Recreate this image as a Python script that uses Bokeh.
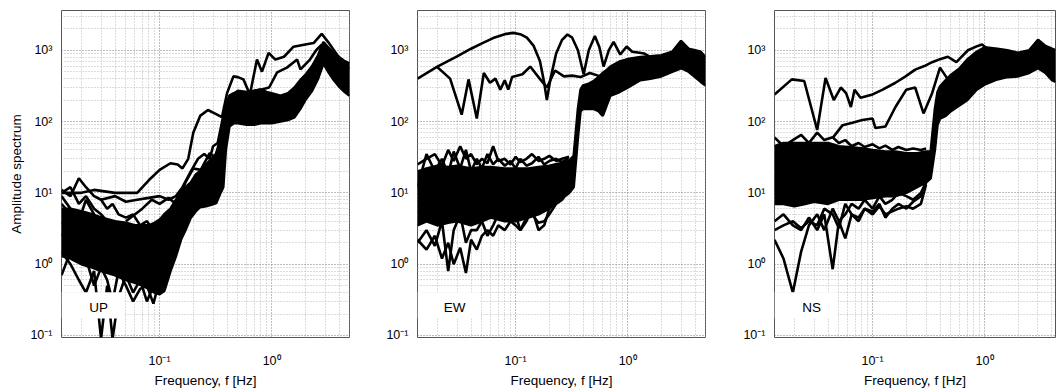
from bokeh.plotting import figure
from bokeh.models import Range1d, FixedTicker, Label, BoxAnnotation
from bokeh.layouts import row
from bokeh.embed import file_html
from bokeh.resources import INLINE

FONT = "Liberation Sans"

# ---------------- axis settings ----------------
X_START, X_END, X_END_NS = 0.0133, 4.96, 4.3
Y_START, Y_END = 0.0937, 3606.0
x_major = [0.1, 1.0]
x_tick_labels = ["10\u207b\u00b9", "10\u2070"]
y_major = [0.1, 1.0, 10.0, 100.0, 1000.0]
y_tick_labels = ["10\u207b\u00b9", "10\u2070", "10\u00b9", "10\u00b2", "10\u00b3"]
x_title = "Frequency, f [Hz]"
y_title = "Amplitude spectrum"
panel_names = ["UP", "EW", "NS"]

# ---------------- UP component ----------------
up_band_f = [0.0133, 0.016, 0.02, 0.025, 0.03, 0.04, 0.05, 0.06, 0.07, 0.08, 0.09, 0.1, 0.11, 0.125, 0.14, 0.155,
             0.17, 0.19, 0.21, 0.23, 0.26, 0.29, 0.32, 0.35, 0.37, 0.39, 0.42, 0.46, 0.5, 0.6, 0.7, 0.8, 0.9, 1.0,
             1.2, 1.4, 1.6, 1.8, 2.0, 2.3, 2.6, 2.9, 3.2, 3.6, 4.0, 4.5, 4.96]
up_band_lo = [1.3, 1.2, 1.0, 0.9, 0.8, 0.7, 0.6, 0.55, 0.5, 0.45, 0.4, 0.38, 0.42, 0.8, 1.3, 2.2,
              3.0, 4.5, 5.5, 6.3, 6.5, 6.8, 7.2, 10, 12, 40, 85, 95, 95, 90, 90, 95, 95, 95,
              100, 105, 115, 150, 200, 270, 400, 650, 500, 380, 310, 260, 230]
up_band_hi = [6, 6, 5.5, 5, 4.5, 4, 3.8, 3.5, 3.5, 3.5, 3.8, 4.2, 5, 6, 8, 10,
              12, 14, 18, 20, 25, 30, 35, 60, 110, 170, 230, 250, 260, 240, 270, 280, 260, 250,
              230, 250, 300, 380, 450, 600, 850, 1300, 1100, 900, 800, 700, 650]
up_low_f = [0.0133, 0.016, 0.019, 0.022, 0.026, 0.03, 0.034, 0.038, 0.043, 0.05, 0.058, 0.067, 0.077, 0.088,
            0.1, 0.115, 0.13]
up_low_1 = [11, 9, 16, 12, 9, 8, 6, 7, 5, 4.5, 5, 3.5, 4, 3, 3.5, 4, 5]
up_low_2 = [7, 5, 4, 8, 5, 3, 4, 2.5, 3, 2, 2.5, 1.8, 2.2, 1.5, 2, 2.5, 4]
up_low_3 = [4, 2.5, 3, 1.5, 2.5, 1.2, 2, 1.0, 1.5, 0.8, 1.2, 0.7, 1, 0.6, 0.8, 1.2, 2.5]
up_low_4 = [1.5, 1.0, 0.6, 0.4, 0.8, 0.09, 0.5, 0.09, 0.35, 0.7, 0.4, 0.6, 0.3, 0.5, 0.45, 0.7, 2]
up_low_5 = [0.7, 1.5, 2, 1.2, 0.5, 0.9, 0.6, 0.3, 0.8, 0.5, 0.3, 0.45, 0.5, 0.28, 0.6, 1.0, 3]
up_low_6 = [9, 6, 3, 5, 2, 3.5, 1.5, 2, 1.2, 1.5, 1.0, 1.2, 0.8, 1, 0.7, 1.5, 3]
up_low_7 = [10, 12, 7, 9, 6, 5, 4, 3, 2.5, 3, 2, 2.5, 1.5, 2, 1.5, 2, 4]
up_low_8 = [2.5, 4, 5, 3, 2.2, 1.5, 1.0, 1.3, 0.7, 1, 0.6, 0.9, 0.5, 0.7, 0.5, 0.8, 2.8]
up_o1_f = [0.0133, 0.02, 0.026, 0.04, 0.063, 0.08, 0.1, 0.125, 0.145, 0.16, 0.18, 0.2, 0.23, 0.27, 0.31, 0.36,
           0.4, 0.456, 0.5, 0.56, 0.64, 0.74, 0.82, 0.94, 1.08, 1.29, 1.57, 2.0, 2.37, 2.8, 3.2, 3.6, 4.2, 4.96]
up_o1 = [10, 10, 11, 10, 10, 15, 21, 26, 25, 22, 30, 70, 120, 145, 130, 115,
         250, 430, 420, 390, 240, 740, 500, 920, 740, 810, 1120, 1200, 1260, 1700, 1300, 1000, 700, 550]
up_o2_f = [0.42, 0.5, 0.6, 0.7, 0.8, 0.95, 1.12, 1.37, 1.69, 1.81, 2.2, 2.5, 2.8]
up_o2 = [220, 270, 260, 270, 280, 300, 490, 570, 740, 540, 740, 1000, 1200]
up_o3_f = [0.03, 0.04, 0.05, 0.063, 0.08, 0.1, 0.12, 0.14, 0.16, 0.19, 0.22, 0.25, 0.28, 0.3, 0.33, 0.37]
up_o3 = [8, 9, 7.5, 8, 8.5, 9, 8, 9, 12, 20, 30, 35, 30, 45, 50, 120]
up_o4_f = [0.05, 0.07, 0.085, 0.1, 0.12, 0.14, 0.17, 0.2, 0.233, 0.28, 0.31, 0.35]
up_o4 = [4, 6, 8, 7, 8.5, 7, 14, 22, 21, 36, 32, 50]

# ---------------- EW component ----------------
ew_band_f = [0.0133, 0.016, 0.02, 0.025, 0.03, 0.04, 0.05, 0.06, 0.08, 0.1, 0.13, 0.16, 0.2, 0.25, 0.3, 0.33,
             0.36, 0.38, 0.4, 0.45, 0.5, 0.55, 0.6, 0.7, 0.85, 1.0, 1.3, 1.6, 2.0, 2.5, 3.0, 3.5, 4.0, 4.5, 4.96]
ew_band_lo = [3.5, 4, 3.5, 3.8, 4, 3.5, 4, 4.5, 4, 4, 4.5, 5, 6, 8, 10, 12,
              60, 140, 150, 150, 150, 140, 120, 230, 260, 300, 380, 400, 430, 500, 560, 500, 420, 360, 320]
ew_band_hi = [20, 22, 24, 23, 24, 22, 23, 23, 22, 22, 22, 23, 24, 26, 28, 33,
              150, 280, 320, 340, 370, 420, 480, 560, 680, 750, 800, 820, 850, 950, 1350, 1050, 1000, 950, 800]
ew_low_f = [0.0133, 0.016, 0.019, 0.022, 0.025, 0.028, 0.032, 0.036, 0.04, 0.045, 0.05, 0.056, 0.063, 0.07,
            0.08, 0.09, 0.1, 0.11, 0.125, 0.14, 0.16, 0.18, 0.2, 0.23, 0.26, 0.3]
ew_low_1 = [25, 30, 35, 24, 40, 28, 45, 30, 35, 25, 30, 26, 45, 28, 30, 25, 32, 27, 30, 35, 28, 30, 33, 28, 30, 32]
ew_low_2 = [2, 3, 1.8, 4, 0.8, 3, 5, 2, 3, 3, 4, 2.5, 3.5, 5, 4, 6, 5, 3, 4, 6, 3, 3.5, 6, 8, 9, 10]
ew_low_3 = [2.2, 1.6, 2.5, 1.2, 2.0, 1.0, 1.7, 0.75, 2.2, 1.6, 2.5, 3, 2.5, 3.5, 3, 4, 3.5, 3, 4.5, 5, 3.8, 4, 5, 7, 8, 11]
ew_low_4 = [12, 35, 20, 30, 18, 38, 22, 40, 20, 30, 22, 35, 25, 30, 24, 28, 22, 30, 24, 26, 32, 25, 28, 30, 27, 31]
ew_o1_f = [0.0133, 0.02, 0.03, 0.04, 0.05, 0.063, 0.08, 0.095, 0.11, 0.126, 0.145, 0.165, 0.18, 0.19, 0.205,
           0.23, 0.26, 0.29, 0.32, 0.36, 0.405, 0.45, 0.51, 0.56, 0.61, 0.68, 0.75, 0.86, 0.98, 1.1, 1.28, 1.4, 1.6]
ew_o1 = [400, 590, 820, 1050, 1250, 1480, 1680, 1750, 1680, 1500, 1150, 700, 350, 200, 400,
         900, 1400, 1660, 1500, 1000, 460, 1000, 1580, 1100, 590, 1000, 1310, 870, 1130, 950, 920, 900, 800]
ew_o2_f = [0.02, 0.026, 0.033, 0.038, 0.045, 0.052, 0.059, 0.066, 0.073, 0.08, 0.086, 0.093, 0.115, 0.135,
           0.166, 0.19, 0.225, 0.27, 0.32, 0.38, 0.46, 0.57, 0.7, 0.86, 1.0]
ew_o2 = [580, 400, 125, 390, 110, 480, 350, 400, 280, 380, 280, 420, 460, 590,
         390, 300, 520, 430, 440, 420, 480, 430, 590, 700, 740]

# ---------------- NS component ----------------
ns_band_f = [0.0133, 0.016, 0.02, 0.025, 0.03, 0.04, 0.05, 0.06, 0.08, 0.1, 0.13, 0.16, 0.2, 0.25, 0.3, 0.33,
             0.36, 0.38, 0.4, 0.45, 0.5, 0.6, 0.7, 0.85, 1.0, 1.3, 1.6, 2.0, 2.5, 3.0, 3.5, 4.0, 4.3]
ns_band_lo = [7, 7, 6.5, 7, 7.5, 7, 8, 8, 8, 8.5, 9, 9, 10, 12, 14, 16,
              40, 90, 110, 120, 140, 170, 200, 280, 330, 390, 420, 430, 480, 560, 480, 380, 360]
ns_band_hi = [45, 50, 50, 50, 50, 50, 45, 44, 42, 40, 38, 38, 36, 36, 38, 38,
              150, 260, 310, 380, 450, 560, 740, 950, 1100, 1050, 1000, 920, 1000, 1400, 1150, 1050, 1000]
ns_low_f = [0.0133, 0.016, 0.0194, 0.023, 0.027, 0.032, 0.037, 0.044, 0.05, 0.057, 0.065, 0.075, 0.085, 0.1,
            0.115, 0.13, 0.15, 0.17, 0.2, 0.23, 0.27, 0.3]
ns_low_1 = [2.2, 1.2, 0.4, 1.5, 3.5, 5, 3, 6, 4, 5, 7, 6, 8, 6, 9, 7, 8, 10, 9, 8, 10, 14]
ns_low_2 = [4, 5, 3.5, 3, 4.5, 3, 5, 0.85, 4, 2.3, 5, 4, 6, 5.5, 7, 4.5, 6, 7, 6, 7.5, 9, 14]
ns_low_3 = [60, 45, 55, 65, 50, 70, 55, 60, 50, 55, 45, 50, 44, 48, 42, 46, 40, 44, 40, 42, 40, 42]
ns_low_4 = [3, 3.5, 4, 3.2, 4, 3.5, 6, 5, 3.2, 7, 5, 4.5, 6, 5, 6.5, 5, 5.5, 6, 6.5, 6, 7, 13]
ns_o1_f = [0.0133, 0.019, 0.0245, 0.032, 0.038, 0.045, 0.052, 0.058, 0.064, 0.069, 0.078, 0.1, 0.123, 0.16,
           0.197, 0.24, 0.29, 0.34, 0.4, 0.47, 0.56, 0.71, 0.87, 0.95, 1.1, 1.3]
ns_o1 = [240, 390, 370, 76, 410, 200, 300, 250, 160, 280, 215, 240, 280, 350,
         430, 535, 600, 680, 750, 810, 680, 1000, 1150, 1200, 1000, 950]
ns_o2_f = [0.044, 0.054, 0.066, 0.081, 0.1, 0.106, 0.13, 0.16, 0.2, 0.24, 0.285, 0.34, 0.4, 0.47, 0.55]
ns_o2 = [59, 89, 96, 105, 110, 81, 85, 160, 280, 300, 130, 250, 570, 390, 420]

panels = [
    dict(band=(up_band_f, up_band_lo, up_band_hi), low_f=up_low_f,
         lows=[up_low_1, up_low_2, up_low_3, up_low_4, up_low_5, up_low_6, up_low_7, up_low_8],
         outliers=[(up_o1_f, up_o1), (up_o2_f, up_o2), (up_o3_f, up_o3), (up_o4_f, up_o4)]),
    dict(band=(ew_band_f, ew_band_lo, ew_band_hi), low_f=ew_low_f,
         lows=[ew_low_1, ew_low_2, ew_low_3, ew_low_4],
         outliers=[(ew_o1_f, ew_o1), (ew_o2_f, ew_o2)]),
    dict(band=(ns_band_f, ns_band_lo, ns_band_hi), low_f=ns_low_f,
         lows=[ns_low_1, ns_low_2, ns_low_3, ns_low_4],
         outliers=[(ns_o1_f, ns_o1), (ns_o2_f, ns_o2)]),
]

x_minor = [k * 10.0 ** e for e in (-2, -1, 0) for k in range(2, 10)]
y_minor = [k * 10.0 ** e for e in (-2, -1, 0, 1, 2, 3) for k in range(2, 10)]

LW = 2.6
layout_cfg = [  # (x_end, frame_width, min_border_left, min_border_right)
    (X_END, 288, 61, 2),
    (X_END, 288, 66, 2),
    (X_END_NS, 281, 67, 1),
]

figs = []
for i, (cfg, lay) in enumerate(zip(panels, layout_cfg)):
    xend, fw, ml, mr = lay
    p = figure(x_axis_type="log", y_axis_type="log",
               x_range=Range1d(X_START, xend), y_range=Range1d(Y_START, Y_END),
               frame_width=fw, frame_height=327,
               min_border_left=ml, min_border_right=mr, min_border_top=10, min_border_bottom=55,
               output_backend="svg", toolbar_location=None, title=None)
    p.background_fill_color = "white"
    p.border_fill_color = "white"
    p.outline_line_color = "#555555"
    p.outline_line_width = 1

    p.xaxis.ticker = FixedTicker(ticks=x_major, minor_ticks=x_minor)
    p.yaxis.ticker = FixedTicker(ticks=y_major, minor_ticks=y_minor)
    p.xaxis.major_label_overrides = {v: t for v, t in zip(x_major, x_tick_labels)}
    p.yaxis.major_label_overrides = {v: t for v, t in zip(y_major, y_tick_labels)}
    for ax in (p.xaxis, p.yaxis):
        ax.major_label_text_font = FONT
        ax.major_label_text_font_size = "12.5px"
        ax.major_label_text_color = "black"
        ax.major_tick_out = 0
        ax.major_tick_in = 0
        ax.minor_tick_out = 0
        ax.minor_tick_in = 0
        ax.axis_line_color = None
        ax.axis_label_text_font = FONT
        ax.axis_label_text_font_style = "normal"
        ax.axis_label_text_font_size = "13.5px"
        ax.axis_label_text_color = "black"
    p.xaxis.major_label_standoff = 16
    p.yaxis.major_label_standoff = 9
    p.xaxis.axis_label = x_title
    p.xaxis.axis_label_standoff = 2
    if i == 0:
        p.yaxis.axis_label = y_title
        p.yaxis.axis_label_standoff = 3

    for g in (p.xgrid, p.ygrid):
        g.grid_line_color = "#7a7a7a"
        g.grid_line_dash = "1 2"
        g.grid_line_width = 1
        g.minor_grid_line_color = "#b8b8b8"
        g.minor_grid_line_dash = "1 2"
        g.minor_grid_line_width = 1

    bf, blo, bhi = cfg["band"]
    p.varea(x=bf, y1=blo, y2=bhi, fill_color="black")
    p.line(bf, blo, line_color="black", line_width=LW)
    p.line(bf, bhi, line_color="black", line_width=LW)
    for ys in cfg["lows"]:
        p.line(cfg["low_f"], ys, line_color="black", line_width=LW)
    for xs, ys in cfg["outliers"]:
        p.line(xs, ys, line_color="black", line_width=LW)

    # component label box
    p.add_layout(BoxAnnotation(left=X_START, right=0.0487, bottom=0.173, top=0.403,
                               fill_color="white", fill_alpha=1.0, line_color=None))
    p.add_layout(Label(x=0.0285, y=0.25, text=panel_names[i], text_align="center",
                       text_baseline="middle", text_font=FONT, text_font_size="13.5px",
                       text_color="black"))
    figs.append(p)

layout = row(*figs)
open("out.html", "w").write(file_html(layout, INLINE))
